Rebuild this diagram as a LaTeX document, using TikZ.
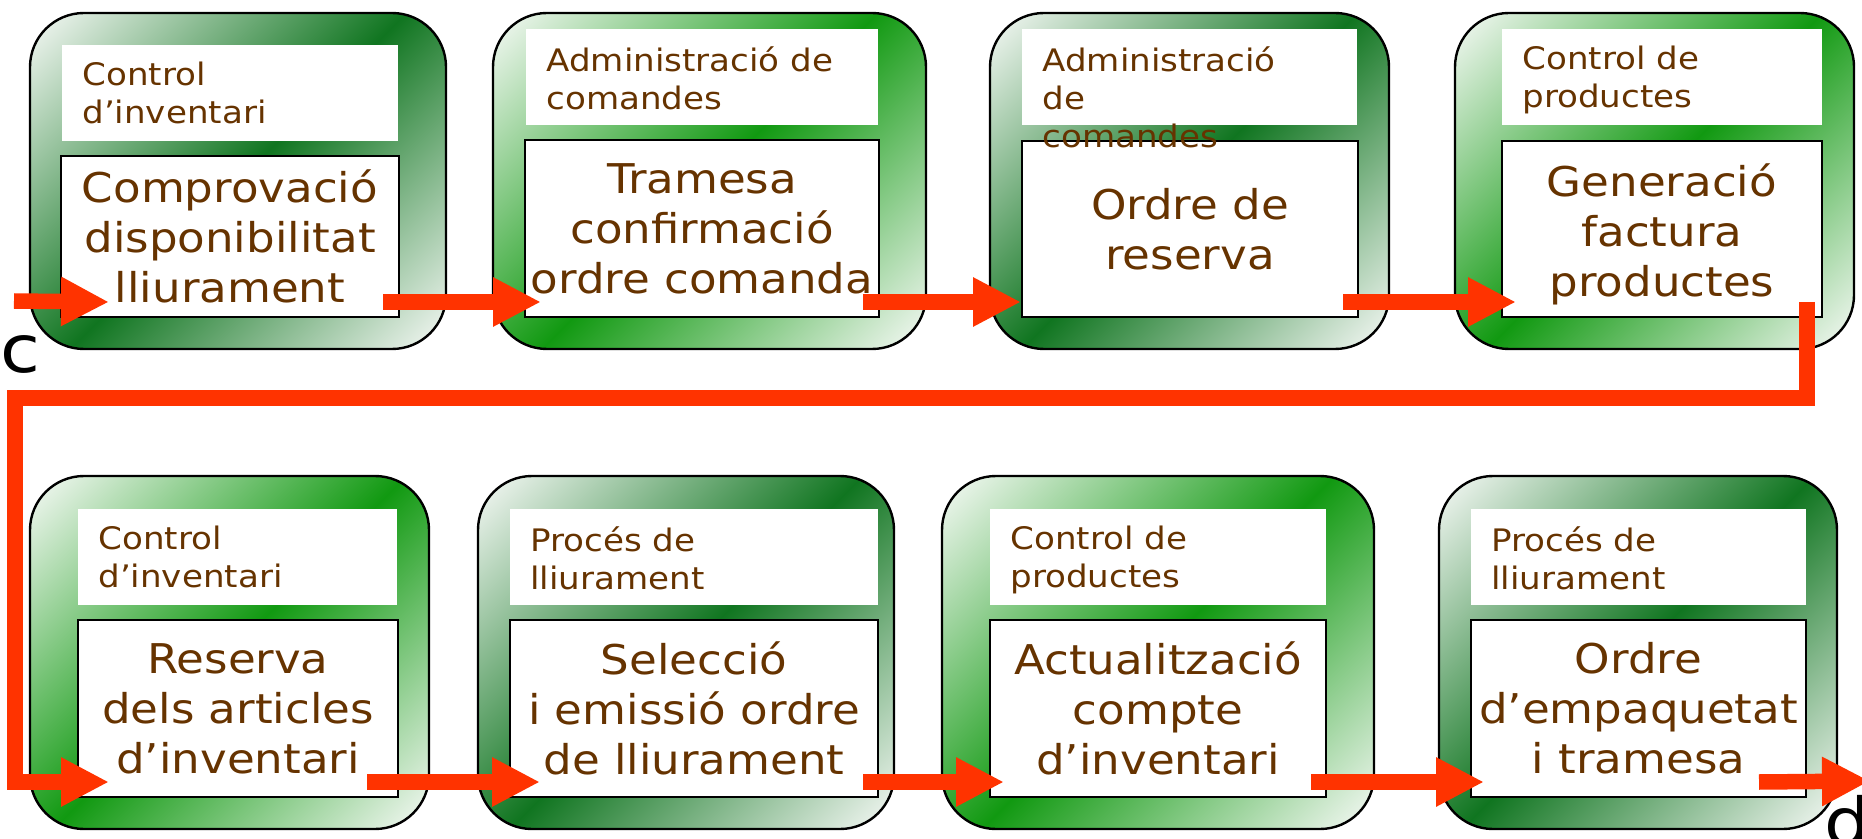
\documentclass[tikz,border=0pt]{standalone}
\usepackage{fontspec}
\setmainfont{DejaVu Sans}[FakeStretch=1.1]
\usetikzlibrary{arrows.meta,calc}
\definecolor{arrowred}{RGB}{255,51,0}
\definecolor{textbrown}{RGB}{102,51,0}
\definecolor{bandgreen}{RGB}{17,153,17}
\definecolor{banddark}{RGB}{16,117,32}
\definecolor{cornerwhite}{RGB}{248,250,248}

% diagonal band shadings
\pgfdeclareverticalshading{bandbright}{100bp}{color(0bp)=(cornerwhite); color(14.6bp)=(cornerwhite);
  color(50bp)=(bandgreen); color(85.4bp)=(cornerwhite); color(100bp)=(cornerwhite)}
\pgfdeclareverticalshading{banddeep}{100bp}{color(0bp)=(cornerwhite); color(14.6bp)=(cornerwhite);
  color(50bp)=(banddark); color(85.4bp)=(cornerwhite); color(100bp)=(cornerwhite)}

\begin{document}
\begin{tikzpicture}[x=0.5pt,y=-0.5pt,
  outerbox/.style={draw=black, line width=1.2pt, rounded corners=27pt, shading=#1, shading angle=45},
  mainbox/.style={draw=black, line width=1pt, fill=white, inner sep=0pt},
  headtext/.style={anchor=north west, align=left, inner sep=0pt, text=textbrown, font=\fontsize{15.5pt}{19pt}\selectfont},
  maintext/.style={align=center, inner sep=0pt, text=textbrown, font=\fontsize{20.5pt}{25pt}\selectfont},
  flow/.style={draw=arrowred, line width=7.75pt, -{Triangle[length=24pt,width=23pt]}},
  endtext/.style={anchor=base west, inner sep=0pt, font=\fontsize{33pt}{40pt}\selectfont}]
\useasboundingbox (0,0) rectangle (1862,839);

% outer boxes
\foreach \l/\r/\t/\b/\sh in {30/446/13/349/banddeep, 493/926/13/349/bandbright, 990/1389/13/349/banddeep, 1455/1854/13/349/bandbright,
  30/429/476/829/bandbright, 478/894/476/829/banddeep, 942/1374/476/829/bandbright, 1439/1837/476/829/banddeep}
  \shadedraw[outerbox=\sh] (\l,\t) rectangle (\r,\b);

% header boxes
\foreach \l/\r/\t/\b in {62/398/45/141, 526/878/29/125, 1022/1357/29/125, 1502/1822/29/125,
  78/397/509/605, 510/878/509/605, 990/1326/509/605, 1471/1806/509/605}
  \fill[white] (\l,\t) rectangle (\r,\b);

% main boxes
\foreach \n/\l/\r/\t/\b in {1/61/399/156/317, 2/525/879/140/317, 3/1022/1358/141/317, 4/1502/1822/141/317,
  5/78/398/620/797, 6/510/878/620/797, 7/990/1326/620/797, 8/1471/1806/620/797}
  \node[mainbox, minimum width={(\r-\l)*0.5pt}, minimum height={(\b-\t)*0.5pt}] (m\n) at ({(\l+\r)/2},{(\t+\b)/2}) {};

% header texts
\node[headtext] (h1) at (82,62) {Control\\d’inventari};
\node[headtext] (h2) at (546,46) {Administració de\\comandes};
\node[headtext] (h3) at (1042,46) {Administració\\de\\comandes};
\node[headtext] (h4) at (1522,46) {Control de\\productes};
\node[headtext] (h5) at (98,526) {Control\\d’inventari};
\node[headtext] (h6) at (530,526) {Procés de\\lliurament};
\node[headtext] (h7) at (1010,526) {Control de\\productes};
\node[headtext] (h8) at (1491,526) {Procés de\\lliurament};

% main texts
\node[maintext] (t1) at (m1) {Comprovació\\disponibilitat\\lliurament};
\node[maintext] (t2) at (m2) {Tramesa\\confirmació\\ordre comanda};
\node[maintext] (t3) at (m3) {Ordre de\\reserva};
\node[maintext] (t4) at ($(m4)+(0,5)$) {Generació\\factura\\productes};
\node[maintext] (t5) at (m5) {Reserva\\dels articles\\d’inventari};
\node[maintext] (t6) at (m6) {Selecció\\i emissió ordre\\de lliurament};
\node[maintext] (t7) at (m7) {Actualització\\compte\\d’inventari};
\node[maintext] (t8) at (m8) {Ordre\\d’empaquetat\\i tramesa};

% flow
\coordinate (c) at (14,301);
\coordinate (d) at (1870,781);
\draw[flow] (c) -- ($(m1.south west)+(49,-16)$);
\draw[flow] ($(m1.south east)+(-17,-16)$) -- ($(m2.south west)+(17,-16)$);
\draw[flow] ($(m2.south east)+(-17,-16)$) -- ($(m3.south west)+(0,-16)$);
\draw[flow] ($(m3.south east)+(-16,-16)$) -- ($(m4.south west)+(15,-16)$);
\draw[flow] ($(m4.south east)+(-16,-16)$) -- ++(0,96) -- ++(-1792,0) |- ($(m5.south west)+(32,-16)$);
\draw[flow] ($(m5.south east)+(-32,-16)$) -- ($(m6.south west)+(31,-16)$);
\draw[flow] ($(m6.south east)+(-16,-16)$) -- ($(m7.south west)+(15,-16)$);
\draw[flow] ($(m7.south east)+(-16,-16)$) -- ($(m8.south west)+(14,-16)$);
\draw[flow] ($(m8.south east)+(-48,-16)$) -- (d);

\node[endtext] (lc) at (0,372) {c};
\node[endtext] (ld) at (1824,845) {d};

\end{tikzpicture}
\end{document}
